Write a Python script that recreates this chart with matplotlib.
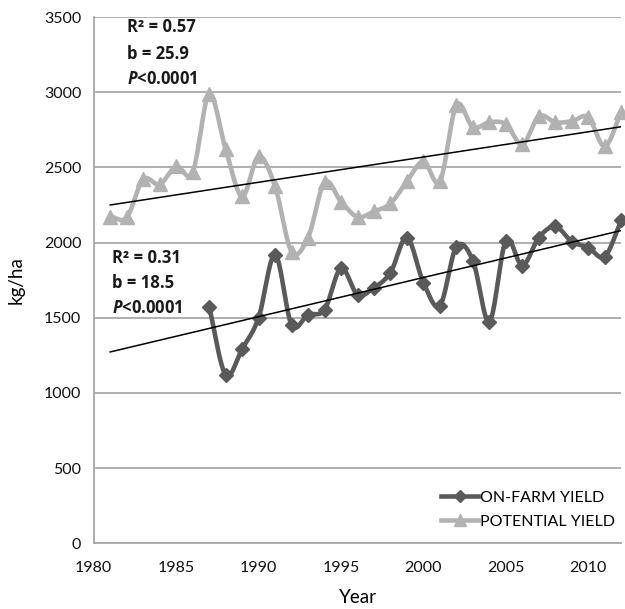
import numpy as np
import matplotlib
matplotlib.use("Agg")
import matplotlib.pyplot as plt
from matplotlib.lines import Line2D

plt.rcParams['font.family'] = ['Lato', 'DejaVu Sans']
plt.rcParams['mathtext.fontset'] = 'custom'
plt.rcParams['mathtext.bfit'] = 'Open Sans:bold:italic'

years_pot = list(range(1981, 2013))
potential = [2173, 2167, 2420, 2387, 2507, 2467, 2987, 2620, 2307, 2573,
             2373, 1940, 2033, 2400, 2273, 2170, 2207, 2260, 2407, 2540,
             2407, 2913, 2767, 2800, 2787, 2653, 2840, 2800, 2807, 2833,
             2640, 2867]

years_farm = list(range(1987, 2013))
on_farm = [1573, 1120, 1293, 1500, 1920, 1453, 1520, 1553, 1830, 1653,
           1700, 1800, 2033, 1733, 1580, 1973, 1880, 1473, 2013, 1847,
           2033, 2107, 2007, 1967, 1907, 2147]

trend_years = [1981, 2012]

C_FARM = '#5a5a5a'
C_POT = '#b2b2b2'


def smooth(x, y, n=20):
    # catmull-rom like Excel's "smoothed line"
    x = np.asarray(x, float)
    y = np.asarray(y, float)
    px = np.concatenate([[2 * x[0] - x[1]], x, [2 * x[-1] - x[-2]]])
    py = np.concatenate([[2 * y[0] - y[1]], y, [2 * y[-1] - y[-2]]])
    xs, ys = [], []
    t = np.linspace(0, 1, n, endpoint=False)
    for i in range(1, len(px) - 2):
        f = lambda a: 0.5 * ((2 * a[1]) + (-a[0] + a[2]) * t +
                             (2 * a[0] - 5 * a[1] + 4 * a[2] - a[3]) * t ** 2 +
                             (-a[0] + 3 * a[1] - 3 * a[2] + a[3]) * t ** 3)
        xs.append(f(px[i - 1:i + 3]))
        ys.append(f(py[i - 1:i + 3]))
    xs.append([x[-1]])
    ys.append([y[-1]])
    return np.concatenate(xs), np.concatenate(ys)


fig = plt.figure(figsize=(6.25, 6.09), dpi=100)
ax = fig.add_axes([0.150, 0.108, 0.844, 0.864])

for yrs, vals, col, mk, ms in [(years_pot, potential, C_POT, '^', 9.5),
                               (years_farm, on_farm, C_FARM, 'D', 7)]:
    sx, sy = smooth(yrs, vals)
    ax.plot(sx, sy, color=col, lw=3.3, zorder=3, clip_on=False)
    ax.plot(yrs, vals, ls='none', marker=mk, ms=ms, color=col, zorder=4,
            clip_on=False)

# linear trends
for yrs, vals in [(years_pot, potential), (years_farm, on_farm)]:
    k, c = np.polyfit(yrs, vals, 1)
    tx = np.array(trend_years)
    ax.plot(tx, k * tx + c, color='black', lw=1.1, zorder=5)

ax.set_xlim(1980, 2012)
ax.set_ylim(0, 3500)
ax.set_xticks(range(1980, 2011, 5))
ax.set_yticks(range(0, 3501, 500))
ax.yaxis.grid(True, color='#a8a8a8', lw=1.3)
ax.set_axisbelow(True)
for s in ['top', 'right']:
    ax.spines[s].set_visible(False)
for s in ['left', 'bottom']:
    ax.spines[s].set_color('#a8a8a8')
    ax.spines[s].set_linewidth(1.3)
ax.tick_params(length=0, labelsize=11.5, colors='#111111')
ax.tick_params(axis='x', pad=13)
ax.tick_params(axis='y', pad=9)
ax.set_xlabel('Year', fontsize=13.5, labelpad=10)
ax.set_ylabel('kg/ha', fontsize=13.5, labelpad=14)

kw = dict(fontsize=12, fontweight='bold', color='#1a1a1a', va='center',
          family='Open Sans')
ax.text(1982.0, 3433, 'R² = 0.57', **kw)
ax.text(1982.0, 3253, 'b = 25.9', **kw)
ax.text(1982.0, 3087, r'$\bfit{P}$<0.0001', **kw)
ax.text(1981.1, 1900, 'R² = 0.31', **kw)
ax.text(1981.1, 1733, 'b = 18.5', **kw)
ax.text(1981.1, 1567, r'$\bfit{P}$<0.0001', **kw)

handles = [Line2D([], [], color=C_FARM, lw=3.3, marker='D', ms=6),
           Line2D([], [], color=C_POT, lw=3.3, marker='^', ms=8)]
ax.legend(handles, ['ON-FARM YIELD', 'POTENTIAL YIELD'], loc='lower right',
          bbox_to_anchor=(1.015, 0.0), frameon=False, fontsize=11.5,
          handlelength=2.3, handletextpad=0.1, labelspacing=0.6)

fig.savefig('out.png', dpi=100)
